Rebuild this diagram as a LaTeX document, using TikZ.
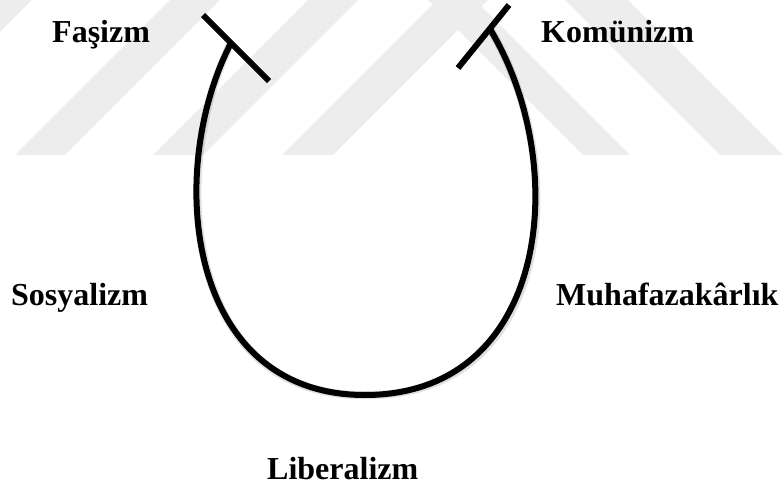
\documentclass[tikz,border=0pt]{standalone}
\usepackage{fontspec}
\setmainfont{Liberation Serif}
\tikzset{
  lbl/.style={anchor=base west, inner sep=0pt, font=\fontsize{32}{36}\selectfont\bfseries},
  wm/.style={fill=black!7, draw=none},
  ucurve/.style={line width=6pt, draw=black},
  teebar/.style={line width=6pt, draw=black},
  shadow/.style={line width=8pt, draw=black, opacity=0.12}
}
\begin{document}
\begin{tikzpicture}[x=1pt,y=-1pt]
\useasboundingbox (0,0) rectangle (783,487);
\begin{scope}
\clip (0,0) rectangle (783,487);
% faint watermark bands
\fill[wm] (-173,155) -- (-123,155) -- (32,0) -- (-18,0) -- cycle;
\fill[wm] (15,155) -- (65,155) -- (220,0) -- (170,0) -- cycle;
\fill[wm] (153,155) -- (203,155) -- (358,0) -- (308,0) -- cycle;
\fill[wm] (282,155) -- (333,155) -- (488,0) -- (437,0) -- cycle;
\fill[wm] (428,0) -- (475,0) -- (630,155) -- (583,155) -- cycle;
\fill[wm] (565,0) -- (628,0) -- (783,155) -- (720,155) -- cycle;
\end{scope}
% named points
\coordinate (lend) at (231,43);
\coordinate (bot) at (365,395);
\coordinate (rend) at (490,29);
\coordinate (lt1) at (203,15);
\coordinate (lt2) at (269,81);
\coordinate (rt1) at (509,5);
\coordinate (rt2) at (458,68);
% shadow
\begin{scope}[shift={(1.5,3)}]
\draw[shadow] (lend) .. controls (165,170) and (185,395) .. (bot)
  .. controls (550,395) and (572,165) .. (rend);
\end{scope}
% U curve
\draw[ucurve] (lend) .. controls (165,170) and (185,395) .. (bot)
  .. controls (550,395) and (572,165) .. (rend);
% tee bars
\draw[teebar] (lt1) -- (lt2);
\draw[teebar] (rt1) -- (rt2);
% labels
\node[lbl] (fas) at (52,42) {Faşizm};
\node[lbl] (kom) at (541,42) {Komünizm};
\node[lbl] (sos) at (11,305) {Sosyalizm};
\node[lbl] (muh) at (556,305) {Muhafazakârlık};
\node[lbl] (lib) at (267,479) {Liberalizm};
\end{tikzpicture}
\end{document}
